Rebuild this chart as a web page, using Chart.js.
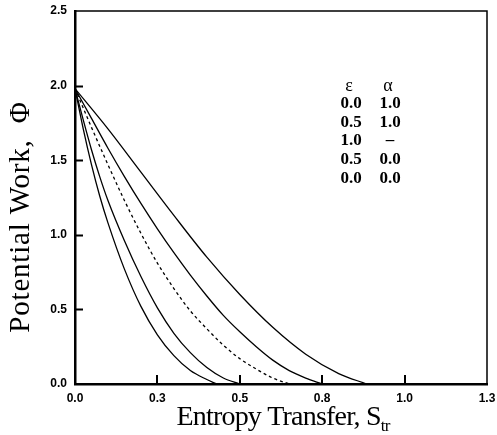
<!DOCTYPE html>
<html>
<head>
<meta charset="utf-8">
<script src="https://cdn.jsdelivr.net/npm/chart.js@4/dist/chart.umd.min.js"></script>
<style>
  html, body { margin: 0; padding: 0; background: #fff; }
  canvas { display: block; }
</style>
</head>
<body>
<canvas id="chart" width="497" height="435"></canvas>
<script>
// axis ticks
const xTickValues = [0, 0.25, 0.5, 0.75, 1.0, 1.25];
const xTickLabels = ['0.0', '0.3', '0.5', '0.8', '1.0', '1.3'];
const yTickValues = [0, 0.5, 1.0, 1.5, 2.0, 2.5];
const yTickLabels = ['0.0', '0.5', '1.0', '1.5', '2.0', '2.5'];

// legend table (epsilon, alpha), top to bottom
const legendEps = ['0.0', '0.5', '1.0', '0.5', '0.0'];
const legendAlpha = ['1.0', '1.0', '–', '0.0', '0.0'];

// curves (S_tr, Phi)
const xEps0Alpha1 = [0, 0.1, 0.2, 0.3, 0.4, 0.5, 0.6, 0.7, 0.8, 0.885];
const yEps0Alpha1 = [1.98, 1.71, 1.42, 1.13, 0.85, 0.60, 0.38, 0.20, 0.07, 0.0];

const xEps05Alpha1 = [0, 0.05, 0.1, 0.15, 0.2, 0.25, 0.3, 0.35, 0.4, 0.45, 0.5, 0.55, 0.6, 0.65, 0.7, 0.75];
const yEps05Alpha1 = [1.98, 1.78, 1.58, 1.39, 1.21, 1.04, 0.88, 0.73, 0.59, 0.46, 0.35, 0.25, 0.16, 0.09, 0.04, 0.0];

const xEps1 = [0, 0.05, 0.1, 0.15, 0.2, 0.25, 0.3, 0.35, 0.4, 0.45, 0.5, 0.55, 0.6, 0.65];
const yEps1 = [1.98, 1.72, 1.47, 1.23, 1.01, 0.81, 0.64, 0.49, 0.37, 0.26, 0.17, 0.10, 0.04, 0.0];

const xEps05Alpha0 = [0, 0.025, 0.05, 0.075, 0.1, 0.15, 0.2, 0.25, 0.3, 0.35, 0.4, 0.45, 0.5];
const yEps05Alpha0 = [1.98, 1.77, 1.57, 1.39, 1.23, 0.96, 0.72, 0.51, 0.34, 0.21, 0.11, 0.04, 0.0];

const xEps0Alpha0 = [0, 0.025, 0.05, 0.075, 0.1, 0.15, 0.2, 0.25, 0.3, 0.35, 0.4, 0.43];
const yEps0Alpha0 = [1.98, 1.71, 1.47, 1.26, 1.08, 0.77, 0.52, 0.33, 0.19, 0.09, 0.03, 0.0];

function toPoints(xs, ys) {
    return xs.map((x, i) => ({ x: x, y: ys[i] }));
}

function curve(label, xs, ys, dashed) {
    return {
        label: label,
        data: toPoints(xs, ys),
        showLine: true,
        borderColor: '#000',
        borderWidth: 1.3,
        borderDash: dashed ? [3, 3] : [],
        pointRadius: 0,
        cubicInterpolationMode: 'monotone',
        fill: false
    };
}

const serif = '"Liberation Serif", "Times New Roman", serif';

// frame, inward ticks, legend table and axis titles
const decorations = {
    id: 'decorations',
    afterDraw(chart) {
        const ctx = chart.ctx;
        const a = chart.chartArea;
        const xs = chart.scales.x;
        const ys = chart.scales.y;
        ctx.save();
        ctx.strokeStyle = '#000';

        // top and right edges of the box
        ctx.lineWidth = 1.5;
        ctx.beginPath();
        ctx.moveTo(a.left, a.top);
        ctx.lineTo(a.right, a.top);
        ctx.lineTo(a.right, a.bottom);
        ctx.stroke();

        // inward ticks
        ctx.lineWidth = 2;
        ctx.beginPath();
        yTickValues.slice(1, -1).forEach(v => {
            const p = Math.round(ys.getPixelForValue(v)) + 0.5;
            ctx.moveTo(a.left, p);
            ctx.lineTo(a.left + 8, p);
        });
        xTickValues.slice(1, -1).forEach(v => {
            const p = Math.round(xs.getPixelForValue(v));
            ctx.moveTo(p, a.bottom);
            ctx.lineTo(p, a.bottom - 9);
        });
        ctx.stroke();

        // legend table
        ctx.fillStyle = '#000';
        ctx.textAlign = 'center';
        ctx.textBaseline = 'middle';
        const col1 = a.left + 276, col2 = a.left + 315;
        ctx.font = '18px ' + serif;
        ctx.fillText('ε', col1 - 2, 86);
        ctx.fillText('α', col2 - 2, 86);
        ctx.font = 'bold 17px ' + serif;
        legendEps.forEach((t, i) => {
            const y = 103.5 + i * 18.75;
            ctx.fillText(t, col1, y);
            ctx.fillText(legendAlpha[i], col2, y);
        });

        // x title with subscript
        ctx.textAlign = 'left';
        ctx.textBaseline = 'alphabetic';
        ctx.letterSpacing = '-0.8px';
        const main = 'Entropy Transfer, S';
        ctx.font = '28px ' + serif;
        const wMain = ctx.measureText(main).width;
        ctx.font = '17px ' + serif;
        const wSub = ctx.measureText('tr').width;
        const startX = 283 - (wMain + wSub) / 2;
        ctx.font = '28px ' + serif;
        ctx.fillText(main, startX, 425);
        ctx.font = '17px ' + serif;
        ctx.fillText('tr', startX + wMain, 431);

        // y title
        ctx.letterSpacing = '0.8px';
        ctx.translate(21, 217);
        ctx.rotate(-Math.PI / 2);
        ctx.textAlign = 'center';
        ctx.textBaseline = 'middle';
        ctx.font = '29px ' + serif;
        ctx.fillText('Potential Work,  Φ', 0, 0);
        ctx.restore();
    }
};

const tickFont = { family: '"Liberation Sans", Arial, sans-serif', size: 12, weight: 'bold' };

new Chart(document.getElementById('chart').getContext('2d'), {
    type: 'scatter',
    data: {
        datasets: [
            curve('ε=0.0 α=1.0', xEps0Alpha1, yEps0Alpha1, false),
            curve('ε=0.5 α=1.0', xEps05Alpha1, yEps05Alpha1, false),
            curve('ε=1.0', xEps1, yEps1, true),
            curve('ε=0.5 α=0.0', xEps05Alpha0, yEps05Alpha0, false),
            curve('ε=0.0 α=0.0', xEps0Alpha0, yEps0Alpha0, false)
        ]
    },
    options: {
        responsive: false,
        animation: false,
        layout: { padding: { top: 11, right: 10, left: 0, bottom: 0 } },
        plugins: {
            legend: { display: false },
            tooltip: { enabled: false }
        },
        scales: {
            x: {
                type: 'linear',
                min: 0,
                max: 1.25,
                afterBuildTicks: scale => {
                    scale.ticks = xTickValues.map(v => ({ value: v }));
                },
                afterFit: scale => {
                    scale.height = 51;
                    scale.paddingLeft = 0;
                    scale.paddingRight = 0;
                },
                grid: { display: true, drawOnChartArea: false, drawTicks: false },
                border: { display: true, color: '#000', width: 2.5 },
                ticks: {
                    color: '#000',
                    font: tickFont,
                    padding: 7,
                    maxRotation: 0,
                    autoSkip: false,
                    callback: (v, i) => xTickLabels[i]
                }
            },
            y: {
                type: 'linear',
                min: 0,
                max: 2.5,
                afterBuildTicks: scale => {
                    scale.ticks = yTickValues.map(v => ({ value: v }));
                },
                afterFit: scale => {
                    scale.width = 75;
                    scale.paddingTop = 0;
                    scale.paddingBottom = 0;
                },
                grid: { display: true, drawOnChartArea: false, drawTicks: false },
                border: { display: true, color: '#000', width: 2.5 },
                ticks: {
                    color: '#000',
                    font: tickFont,
                    padding: 8,
                    autoSkip: false,
                    callback: (v, i) => yTickLabels[i]
                }
            }
        }
    },
    plugins: [decorations]
});
</script>
</body>
</html>
